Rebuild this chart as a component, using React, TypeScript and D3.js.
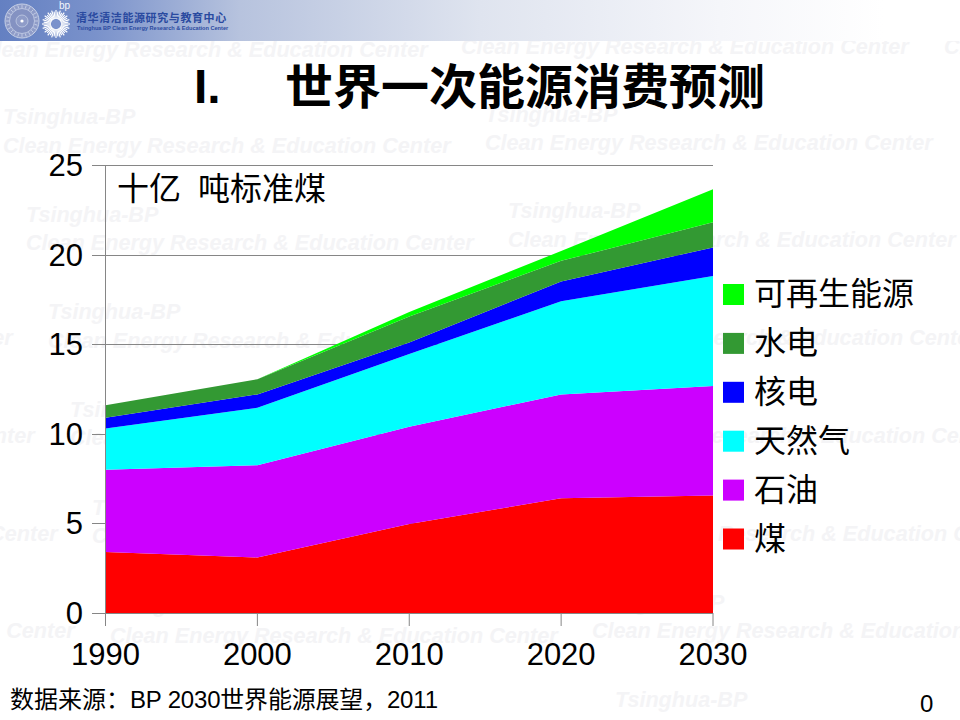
import React from "react";
import * as d3 from "d3";

const years = [1990, 2000, 2010, 2020, 2030];
const coal = [3.4, 3.1, 4.97, 6.4, 6.55];
const oil = [4.6, 5.15, 5.43, 5.8, 6.12];
const gas = [2.3, 3.2, 4.05, 5.2, 6.13];
const nuclear = [0.6, 0.75, 0.65, 1.1, 1.6];
const hydro = [0.7, 0.85, 1.45, 1.15, 1.4];
const renewables = [0.0, 0.0, 0.25, 0.55, 1.85];
const seriesNames = ["煤", "石油", "天然气", "核电", "水电", "可再生能源"];
const seriesColors = ["#ff0000", "#cc00ff", "#00ffff", "#0000ff", "#339933", "#00ff00"];
const seriesValues = [coal, oil, gas, nuclear, hydro, renewables];
const yTicks = [0, 5, 10, 15, 20, 25];

const watermarkTop = [
  [-20, 57],
  [461, 54],
  [944, 54],
];
const watermarkBlocks = [
  [3, 124, 153], [485, 122, 150], [26, 222, 250], [508, 218, 247], [48, 319, 348],
  [530, 317, 345], [70, 417, 445], [552, 414, 443], [92, 515, 543], [574, 512, 541],
  [110, 612, 643], [592, 610, 638],
];
const watermarkLower = [[615, 707]];
const wrapClean = [[-435, 345], [-413, 443], [-390, 541], [-373, 638], [968, 150], [968, 247]];

const sans = "'Liberation Sans', Arial, sans-serif";
const cjk = "'Liberation Sans', 'Noto Sans CJK SC', sans-serif";
const CLEAN = "Clean Energy Research & Education Center";

export default function App() {
  const x = d3.scaleLinear().domain([1990, 2030]).range([105.5, 713]);
  const y = d3.scaleLinear().domain([0, 25]).range([613, 165]);
  const table = years.map((yr, i) => {
    const row: any = { yr };
    seriesNames.forEach((n, k) => (row[n] = seriesValues[k][i]));
    return row;
  });
  const stacked = d3.stack().keys(seriesNames)(table);
  const area = d3
    .area<any>()
    .x((d) => x(d.data.yr))
    .y0((d) => y(d[0]))
    .y1((d) => y(d[1]));
  const rays = d3.range(40).map((i) => (i * 360) / 40);
  const seal = d3.range(24).map((i) => (i * 360) / 24);

  return (
    <svg
      width={960}
      height={720}
      viewBox="0 0 960 720"
      style={{ position: "fixed", left: 0, top: 0, background: "#fff" }}
    >
      <defs>
        <linearGradient id="hdr" x1="0" x2="1" y1="0" y2="0">
          <stop offset="0" stopColor="#6480c2" />
          <stop offset="0.1" stopColor="#7a92cb" />
          <stop offset="0.25" stopColor="#b7c3de" />
          <stop offset="0.5" stopColor="#dfe4ef" />
          <stop offset="0.75" stopColor="#f5f6fa" />
          <stop offset="0.92" stopColor="#ffffff" />
        </linearGradient>
      </defs>
      <rect width={960} height={720} fill="#fff" />
      <g
        fontFamily={sans}
        fontWeight="bold"
        fontStyle="italic"
        fontSize={21.6}
        fill="#f4f4f6"
      >
        {watermarkTop.map((b, i) => (
          <text key={i} x={b[0]} y={b[1]}>
            {CLEAN}
          </text>
        ))}
        {watermarkBlocks.map((b, i) => (
          <g key={i}>
            <text x={b[0]} y={b[1]}>
              Tsinghua-BP
            </text>
            <text x={b[0]} y={b[2]}>
              {CLEAN}
            </text>
          </g>
        ))}
        {watermarkLower.map((b, i) => (
          <text key={i} x={b[0]} y={b[1]}>
            Tsinghua-BP
          </text>
        ))}
        {wrapClean.map((b, i) => (
          <text key={i} x={b[0]} y={b[1]}>
            {CLEAN}
          </text>
        ))}
      </g>

      <rect width={960} height={41} fill="url(#hdr)" />
      <g transform="translate(22,21)">
        <circle r={17} fill="#8f9cc8" stroke="#c9d2e8" strokeWidth={1} />
        <circle r={12.5} fill="#8492c2" stroke="#c9d2e8" strokeWidth={0.8} />
        {seal.map((a) => (
          <line key={a} x1={13} x2={16} transform={`rotate(${a})`} stroke="#c9d2e8" strokeWidth={0.8} />
        ))}
        <circle r={6} fill="#8f9cc8" stroke="#c9d2e8" strokeWidth={0.7} />
        <circle r={1.6} fill="#fff" />
      </g>
      <g transform="translate(56,24)">
        {rays.map((a) => (
          <line key={a} x1={5} x2={a % 18 === 0 ? 14 : 12.5} transform={`rotate(${a})`} stroke="#ffffff" strokeWidth={1.2} />
        ))}
        <circle r={4.5} fill="#7b92cc" />
      </g>
      <text x={59} y={8.5} fontFamily={sans} fontSize={10} fill="#f4f6fb">
        bp
      </text>
      <text x={76} y={22} fontFamily={cjk} fontSize={11} letterSpacing={0.6} fontWeight="bold" fill="#2a4aa0">
        清华清洁能源研究与教育中心
      </text>
      <text x={77} y={30} fontFamily={sans} fontSize={5.6} fontWeight="bold" fill="#2a4aa0">
        Tsinghua BP Clean Energy Research &amp; Education Center
      </text>

      <text x={194} y={103} fontFamily={sans} fontWeight="bold" fontSize={48} fill="#000">
        I.
      </text>
      <text x={285} y={104} fontFamily={cjk} fontWeight="bold" fontSize={48} fill="#000">
        世界一次能源消费预测
      </text>

      <g stroke="#868686" strokeWidth={1}>
        {yTicks.map((t) => (
          <line key={t} x1={92} x2={713} y1={Math.round(y(t)) + 0.5} y2={Math.round(y(t)) + 0.5} />
        ))}
      </g>
      {stacked.map((s, i) => (
        <path key={s.key} d={area(s as any) || ""} fill={seriesColors[i]} />
      ))}
      <g stroke="#868686" strokeWidth={1}>
        <line x1={92} x2={713} y1={613.5} y2={613.5} />
        <line x1={105.5} x2={105.5} y1={165} y2={626} />
        {years.map((yr) => (
          <line key={yr} x1={x(yr)} x2={x(yr)} y1={613} y2={626} />
        ))}
      </g>
      <g fontFamily={sans} fontSize={31} fill="#000">
        {yTicks.map((t) => (
          <text key={t} x={83} y={y(t) + 11} textAnchor="end">
            {t}
          </text>
        ))}
        {years.map((yr) => (
          <text key={yr} x={x(yr)} y={665} textAnchor="middle">
            {yr}
          </text>
        ))}
      </g>
      <text x={117} y={200} fontFamily={cjk} fontSize={32} fill="#000">
        十亿
      </text>
      <text x={198} y={200} fontFamily={cjk} fontSize={32} fill="#000">
        吨标准煤
      </text>
      {seriesNames.map((n, i) => {
        const row = seriesNames.length - 1 - i;
        const top = 284 + row * 48.9;
        return (
          <g key={n}>
            <rect x={723} y={top} width={21} height={21} fill={seriesColors[i]} />
            <text x={754} y={top + 21} fontFamily={cjk} fontSize={32} fill="#000">
              {n}
            </text>
          </g>
        );
      })}
      <text x={10} y={708} fontFamily={cjk} fontSize={24} fill="#000">
        数据来源：
      </text>
      <text x={130} y={708} fontFamily={cjk} fontSize={24} fill="#000" textLength={308}>
        BP 2030世界能源展望，2011
      </text>
      <text x={920} y={712} fontFamily={sans} fontSize={24} fill="#000">
        0
      </text>
    </svg>
  );
}
